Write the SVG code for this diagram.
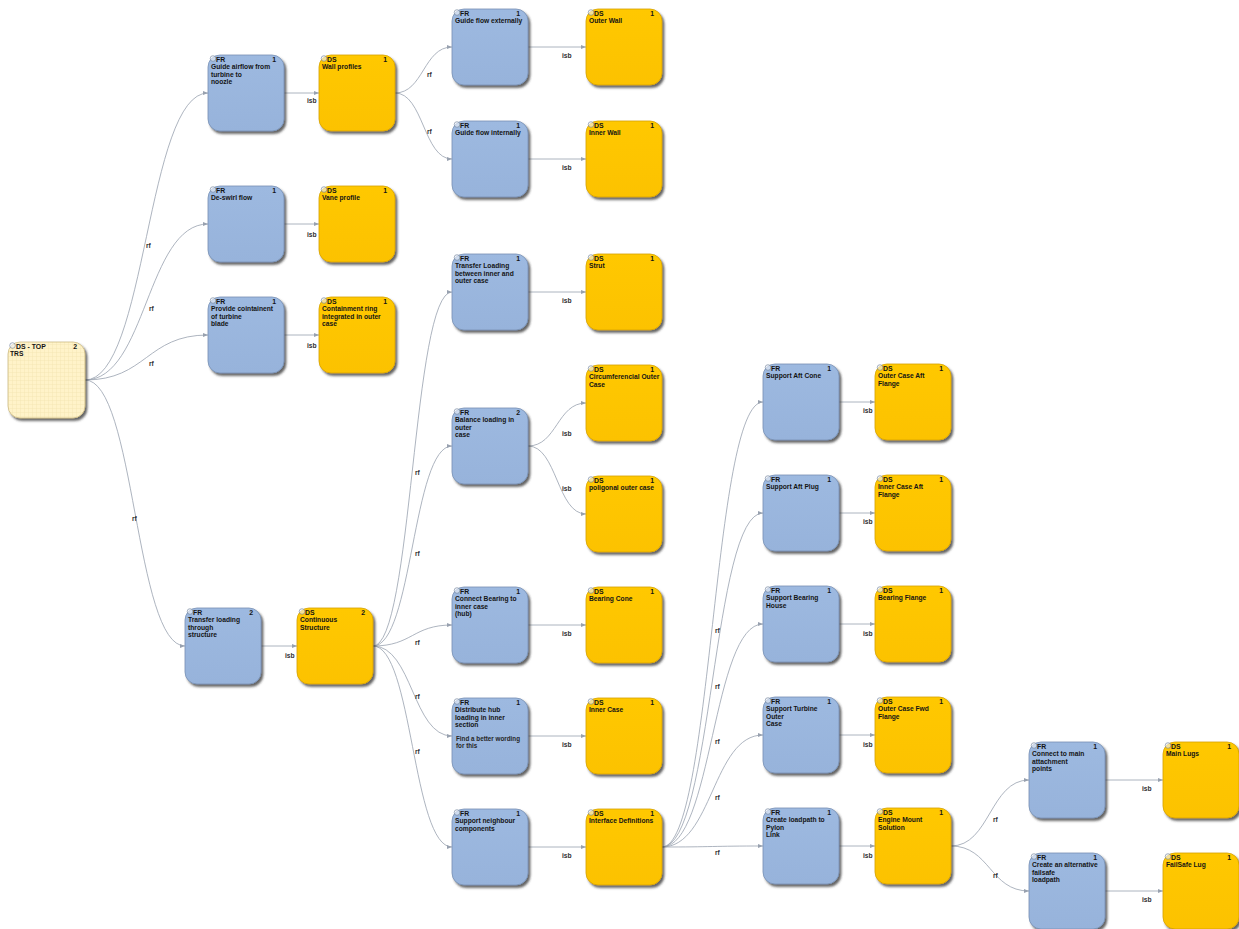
<svg xmlns="http://www.w3.org/2000/svg" width="1239" height="929" viewBox="0 0 1239 929">
  <defs>
    <style>
      .fr { fill: url(#gFR); stroke: #7890B4; stroke-width: 0.8; filter: url(#sh); }
      .ds { fill: url(#gDS); stroke: #D6A200; stroke-width: 0.8; filter: url(#sh); }
      .top { fill: url(#grid); stroke: #CDBB85; stroke-width: 0.8; filter: url(#sh); }
      .dot { fill: #EEF2F8; fill-opacity: 0.6; stroke: #6E7F99; stroke-width: 0.6; }
      .hd { font-family: "Liberation Sans", Arial, sans-serif; font-size: 6.9px; font-weight: bold; fill: #141414; }
      .num { font-family: "Liberation Sans", Arial, sans-serif; font-size: 6.9px; font-weight: bold; fill: #141414; text-anchor: end; }
      .tx { font-family: "Liberation Sans", Arial, sans-serif; font-size: 6.7px; font-weight: bold; fill: #141414; }
      .note { font-family: "Liberation Sans", Arial, sans-serif; font-size: 6.3px; font-weight: bold; fill: #262626; }
      .edge { fill: none; stroke: #98A1AF; stroke-width: 0.8; marker-end: url(#arr); }
      .lbl { font-family: "Liberation Sans", Arial, sans-serif; font-size: 6.7px; font-weight: bold; fill: #303030; }
    </style>
    <linearGradient id="gFR" x1="0" y1="0" x2="0" y2="1">
      <stop offset="0" stop-color="#9DB9E0"/>
      <stop offset="1" stop-color="#97B3DB"/>
    </linearGradient>
    <linearGradient id="gDS" x1="0" y1="0" x2="0" y2="1">
      <stop offset="0" stop-color="#FFC800"/>
      <stop offset="1" stop-color="#FCC200"/>
    </linearGradient>
    <pattern id="grid" width="4" height="4" patternUnits="userSpaceOnUse">
      <rect width="4" height="4" fill="#FFF3C9"/>
      <path d="M0,0.25 H4 M0.25,0 V4" stroke="#F2E3B0" stroke-width="0.5"/>
    </pattern>
    <filter id="sh" x="-10%" y="-10%" width="130%" height="130%">
      <feDropShadow dx="2" dy="2.5" stdDeviation="1.2" flood-color="#333333" flood-opacity="0.75"/>
    </filter>
    <marker id="arr" viewBox="0 0 6 6" refX="6" refY="3" markerWidth="5" markerHeight="5" markerUnits="userSpaceOnUse" orient="auto">
      <path d="M0,0.6 L6,3 L0,5.4 Z" fill="#98A1AF"/>
    </marker>
  </defs>
  <rect width="1239" height="929" fill="#FFFFFF"/>

  <!-- connectors -->
  <g id="connectors">
    <path class="edge" d="M85,380 C146.5,380 146.5,93 208,93"/>
    <path class="edge" d="M85,380 C146.5,380 146.5,224 208,224"/>
    <path class="edge" d="M85,380 C146.5,380 146.5,335 208,335"/>
    <path class="edge" d="M85,380 C135,380 135,646 185,646"/>
    <path class="edge" d="M284,93 L319,93"/>
    <path class="edge" d="M284,224 L319,224"/>
    <path class="edge" d="M284,335 L319,335"/>
    <path class="edge" d="M261,646 L297,646"/>
    <path class="edge" d="M395,93 C423.5,93 423.5,47 452,47"/>
    <path class="edge" d="M395,93 C423.5,93 423.5,159 452,159"/>
    <path class="edge" d="M528,47 L586,47"/>
    <path class="edge" d="M528,159 L586,159"/>
    <path class="edge" d="M373,646 C412.5,646 412.5,292 452,292"/>
    <path class="edge" d="M373,646 C412.5,646 412.5,446 452,446"/>
    <path class="edge" d="M373,646 C412.5,646 412.5,625 452,625"/>
    <path class="edge" d="M373,646 C412.5,646 412.5,736 452,736"/>
    <path class="edge" d="M373,646 C412.5,646 412.5,847 452,847"/>
    <path class="edge" d="M528,292 L586,292"/>
    <path class="edge" d="M528,446 C557,446 557,403 586,403"/>
    <path class="edge" d="M528,446 C557,446 557,514 586,514"/>
    <path class="edge" d="M528,625 L586,625"/>
    <path class="edge" d="M528,736 L586,736"/>
    <path class="edge" d="M528,847 L586,847"/>
    <path class="edge" d="M662,847 C712.5,847 712.5,402 763,402"/>
    <path class="edge" d="M662,847 C712.5,847 712.5,513 763,513"/>
    <path class="edge" d="M662,847 C712.5,847 712.5,624 763,624"/>
    <path class="edge" d="M662,847 C712.5,847 712.5,735 763,735"/>
    <path class="edge" d="M662,847 C712.5,847 712.5,846 763,846"/>
    <path class="edge" d="M839,402 L875,402"/>
    <path class="edge" d="M839,513 L875,513"/>
    <path class="edge" d="M839,624 L875,624"/>
    <path class="edge" d="M839,735 L875,735"/>
    <path class="edge" d="M839,846 L875,846"/>
    <path class="edge" d="M951,846 C990,846 990,780 1029,780"/>
    <path class="edge" d="M951,846 C990,846 990,891 1029,891"/>
    <path class="edge" d="M1105,780 L1163,780"/>
    <path class="edge" d="M1105,891 L1163,891"/>

    <text class="lbl" x="146" y="248">rf</text>
    <text class="lbl" x="149" y="311">rf</text>
    <text class="lbl" x="149" y="366">rf</text>
    <text class="lbl" x="132" y="521">rf</text>
    <text class="lbl" x="307" y="103">isb</text>
    <text class="lbl" x="307" y="237">isb</text>
    <text class="lbl" x="307" y="348">isb</text>
    <text class="lbl" x="285" y="658">isb</text>
    <text class="lbl" x="427" y="77">rf</text>
    <text class="lbl" x="427" y="134">rf</text>
    <text class="lbl" x="562" y="58">isb</text>
    <text class="lbl" x="562" y="170">isb</text>
    <text class="lbl" x="415" y="475">rf</text>
    <text class="lbl" x="415" y="556">rf</text>
    <text class="lbl" x="415" y="645">rf</text>
    <text class="lbl" x="415" y="699">rf</text>
    <text class="lbl" x="415" y="754">rf</text>
    <text class="lbl" x="562" y="303">isb</text>
    <text class="lbl" x="562" y="436">isb</text>
    <text class="lbl" x="562" y="491">isb</text>
    <text class="lbl" x="562" y="636">isb</text>
    <text class="lbl" x="562" y="747">isb</text>
    <text class="lbl" x="562" y="858">isb</text>
    <text class="lbl" x="715" y="633">rf</text>
    <text class="lbl" x="715" y="689">rf</text>
    <text class="lbl" x="715" y="744">rf</text>
    <text class="lbl" x="715" y="800">rf</text>
    <text class="lbl" x="715" y="855">rf</text>
    <text class="lbl" x="863" y="413">isb</text>
    <text class="lbl" x="863" y="524">isb</text>
    <text class="lbl" x="863" y="636">isb</text>
    <text class="lbl" x="863" y="747">isb</text>
    <text class="lbl" x="863" y="858">isb</text>
    <text class="lbl" x="993" y="822">rf</text>
    <text class="lbl" x="993" y="878">rf</text>
    <text class="lbl" x="1142" y="791">isb</text>
    <text class="lbl" x="1142" y="902">isb</text>
  </g>

  <!-- top-level design solution -->
  <g id="ds-top">
    <rect class="top" x="8" y="342" width="77" height="76" rx="12"/>
    <circle class="dot" cx="12.5" cy="345.5" r="2.8"/>
    <text class="hd" x="16" y="349">DS - TOP</text>
    <text class="num" x="77" y="349">2</text>
    <text class="tx" x="10" y="356">TRS</text>
  </g>

  <!-- functional requirements / design solutions -->
  <g id="fr-guide-airflow">
    <rect class="fr" x="208" y="55" width="76" height="76" rx="12"/>
    <circle class="dot" cx="213" cy="58.5" r="2.8"/>
    <text class="hd" x="216" y="62">FR</text>
    <text class="num" x="276" y="62">1</text>
    <text class="tx" x="211" y="69">Guide airflow from</text>
    <text class="tx" x="211" y="76.6">turbine to</text>
    <text class="tx" x="211" y="84.2">noozle</text>
  </g>
  <g id="ds-wall-profiles">
    <rect class="ds" x="319" y="55" width="76" height="76" rx="12"/>
    <circle class="dot" cx="324" cy="58.5" r="2.8"/>
    <text class="hd" x="327" y="62">DS</text>
    <text class="num" x="387" y="62">1</text>
    <text class="tx" x="322" y="69">Wall profiles</text>
  </g>
  <g id="fr-guide-ext">
    <rect class="fr" x="452" y="9" width="76" height="76" rx="12"/>
    <circle class="dot" cx="457" cy="12.5" r="2.8"/>
    <text class="hd" x="460" y="16">FR</text>
    <text class="num" x="520" y="16">1</text>
    <text class="tx" x="455" y="23">Guide flow externally</text>
  </g>
  <g id="ds-outer-wall">
    <rect class="ds" x="586" y="9" width="76" height="76" rx="12"/>
    <circle class="dot" cx="591" cy="12.5" r="2.8"/>
    <text class="hd" x="594" y="16">DS</text>
    <text class="num" x="654" y="16">1</text>
    <text class="tx" x="589" y="23">Outer Wall</text>
  </g>
  <g id="fr-guide-int">
    <rect class="fr" x="452" y="121" width="76" height="76" rx="12"/>
    <circle class="dot" cx="457" cy="124.5" r="2.8"/>
    <text class="hd" x="460" y="128">FR</text>
    <text class="num" x="520" y="128">1</text>
    <text class="tx" x="455" y="135">Guide flow internally</text>
  </g>
  <g id="ds-inner-wall">
    <rect class="ds" x="586" y="121" width="76" height="76" rx="12"/>
    <circle class="dot" cx="591" cy="124.5" r="2.8"/>
    <text class="hd" x="594" y="128">DS</text>
    <text class="num" x="654" y="128">1</text>
    <text class="tx" x="589" y="135">Inner Wall</text>
  </g>
  <g id="fr-deswirl">
    <rect class="fr" x="208" y="186" width="76" height="76" rx="12"/>
    <circle class="dot" cx="213" cy="189.5" r="2.8"/>
    <text class="hd" x="216" y="193">FR</text>
    <text class="num" x="276" y="193">1</text>
    <text class="tx" x="211" y="200">De-swirl flow</text>
  </g>
  <g id="ds-vane">
    <rect class="ds" x="319" y="186" width="76" height="76" rx="12"/>
    <circle class="dot" cx="324" cy="189.5" r="2.8"/>
    <text class="hd" x="327" y="193">DS</text>
    <text class="num" x="387" y="193">1</text>
    <text class="tx" x="322" y="200">Vane profile</text>
  </g>
  <g id="fr-containment">
    <rect class="fr" x="208" y="297" width="76" height="76" rx="12"/>
    <circle class="dot" cx="213" cy="300.5" r="2.8"/>
    <text class="hd" x="216" y="304">FR</text>
    <text class="num" x="276" y="304">1</text>
    <text class="tx" x="211" y="311">Provide cointainent</text>
    <text class="tx" x="211" y="318.6">of turbine</text>
    <text class="tx" x="211" y="326.2">blade</text>
  </g>
  <g id="ds-containment-ring">
    <rect class="ds" x="319" y="297" width="76" height="76" rx="12"/>
    <circle class="dot" cx="324" cy="300.5" r="2.8"/>
    <text class="hd" x="327" y="304">DS</text>
    <text class="num" x="387" y="304">1</text>
    <text class="tx" x="322" y="311">Containment ring</text>
    <text class="tx" x="322" y="318.6">integrated in outer</text>
    <text class="tx" x="322" y="326.2">case</text>
  </g>
  <g id="fr-transfer-structure">
    <rect class="fr" x="185" y="608" width="76" height="76" rx="12"/>
    <circle class="dot" cx="190" cy="611.5" r="2.8"/>
    <text class="hd" x="193" y="615">FR</text>
    <text class="num" x="253" y="615">2</text>
    <text class="tx" x="188" y="622">Transfer loading</text>
    <text class="tx" x="188" y="629.6">through</text>
    <text class="tx" x="188" y="637.2">structure</text>
  </g>
  <g id="ds-continuous">
    <rect class="ds" x="297" y="608" width="76" height="76" rx="12"/>
    <circle class="dot" cx="302" cy="611.5" r="2.8"/>
    <text class="hd" x="305" y="615">DS</text>
    <text class="num" x="365" y="615">2</text>
    <text class="tx" x="300" y="622">Continuous</text>
    <text class="tx" x="300" y="629.6">Structure</text>
  </g>
  <g id="fr-transfer-between">
    <rect class="fr" x="452" y="254" width="76" height="76" rx="12"/>
    <circle class="dot" cx="457" cy="257.5" r="2.8"/>
    <text class="hd" x="460" y="261">FR</text>
    <text class="num" x="520" y="261">1</text>
    <text class="tx" x="455" y="268">Transfer Loading</text>
    <text class="tx" x="455" y="275.6">between inner and</text>
    <text class="tx" x="455" y="283.2">outer case</text>
  </g>
  <g id="ds-strut">
    <rect class="ds" x="586" y="254" width="76" height="76" rx="12"/>
    <circle class="dot" cx="591" cy="257.5" r="2.8"/>
    <text class="hd" x="594" y="261">DS</text>
    <text class="num" x="654" y="261">1</text>
    <text class="tx" x="589" y="268">Strut</text>
  </g>
  <g id="fr-balance">
    <rect class="fr" x="452" y="408" width="76" height="76" rx="12"/>
    <circle class="dot" cx="457" cy="411.5" r="2.8"/>
    <text class="hd" x="460" y="415">FR</text>
    <text class="num" x="520" y="415">2</text>
    <text class="tx" x="455" y="422">Balance loading in</text>
    <text class="tx" x="455" y="429.6">outer</text>
    <text class="tx" x="455" y="437.2">case</text>
  </g>
  <g id="ds-circumferencial">
    <rect class="ds" x="586" y="365" width="76" height="76" rx="12"/>
    <circle class="dot" cx="591" cy="368.5" r="2.8"/>
    <text class="hd" x="594" y="372">DS</text>
    <text class="num" x="654" y="372">1</text>
    <text class="tx" x="589" y="379">Circumferencial Outer</text>
    <text class="tx" x="589" y="386.6">Case</text>
  </g>
  <g id="ds-poligonal">
    <rect class="ds" x="586" y="476" width="76" height="76" rx="12"/>
    <circle class="dot" cx="591" cy="479.5" r="2.8"/>
    <text class="hd" x="594" y="483">DS</text>
    <text class="num" x="654" y="483">1</text>
    <text class="tx" x="589" y="490">poligonal outer case</text>
  </g>
  <g id="fr-connect-bearing">
    <rect class="fr" x="452" y="587" width="76" height="76" rx="12"/>
    <circle class="dot" cx="457" cy="590.5" r="2.8"/>
    <text class="hd" x="460" y="594">FR</text>
    <text class="num" x="520" y="594">1</text>
    <text class="tx" x="455" y="601">Connect Bearing to</text>
    <text class="tx" x="455" y="608.6">inner case</text>
    <text class="tx" x="455" y="616.2">(hub)</text>
  </g>
  <g id="ds-bearing-cone">
    <rect class="ds" x="586" y="587" width="76" height="76" rx="12"/>
    <circle class="dot" cx="591" cy="590.5" r="2.8"/>
    <text class="hd" x="594" y="594">DS</text>
    <text class="num" x="654" y="594">1</text>
    <text class="tx" x="589" y="601">Bearing Cone</text>
  </g>
  <g id="fr-distribute-hub">
    <rect class="fr" x="452" y="698" width="76" height="76" rx="12"/>
    <circle class="dot" cx="457" cy="701.5" r="2.8"/>
    <text class="hd" x="460" y="705">FR</text>
    <text class="num" x="520" y="705">1</text>
    <text class="tx" x="455" y="712">Distribute hub</text>
    <text class="tx" x="455" y="719.6">loading in inner</text>
    <text class="tx" x="455" y="727.2">section</text>
    <text class="note" x="456" y="740.5">Find a better wording</text>
    <text class="note" x="456" y="748">for this</text>
  </g>
  <g id="ds-inner-case">
    <rect class="ds" x="586" y="698" width="76" height="76" rx="12"/>
    <circle class="dot" cx="591" cy="701.5" r="2.8"/>
    <text class="hd" x="594" y="705">DS</text>
    <text class="num" x="654" y="705">1</text>
    <text class="tx" x="589" y="712">Inner Case</text>
  </g>
  <g id="fr-support-neighbour">
    <rect class="fr" x="452" y="809" width="76" height="76" rx="12"/>
    <circle class="dot" cx="457" cy="812.5" r="2.8"/>
    <text class="hd" x="460" y="816">FR</text>
    <text class="num" x="520" y="816">1</text>
    <text class="tx" x="455" y="823">Support neighbour</text>
    <text class="tx" x="455" y="830.6">components</text>
  </g>
  <g id="ds-interface">
    <rect class="ds" x="586" y="809" width="76" height="76" rx="12"/>
    <circle class="dot" cx="591" cy="812.5" r="2.8"/>
    <text class="hd" x="594" y="816">DS</text>
    <text class="num" x="654" y="816">1</text>
    <text class="tx" x="589" y="823">Interface Definitions</text>
  </g>
  <g id="fr-aft-cone">
    <rect class="fr" x="763" y="364" width="76" height="76" rx="12"/>
    <circle class="dot" cx="768" cy="367.5" r="2.8"/>
    <text class="hd" x="771" y="371">FR</text>
    <text class="num" x="831" y="371">1</text>
    <text class="tx" x="766" y="378">Support Aft Cone</text>
  </g>
  <g id="ds-outer-aft-flange">
    <rect class="ds" x="875" y="364" width="76" height="76" rx="12"/>
    <circle class="dot" cx="880" cy="367.5" r="2.8"/>
    <text class="hd" x="883" y="371">DS</text>
    <text class="num" x="943" y="371">1</text>
    <text class="tx" x="878" y="378">Outer Case Aft</text>
    <text class="tx" x="878" y="385.6">Flange</text>
  </g>
  <g id="fr-aft-plug">
    <rect class="fr" x="763" y="475" width="76" height="76" rx="12"/>
    <circle class="dot" cx="768" cy="478.5" r="2.8"/>
    <text class="hd" x="771" y="482">FR</text>
    <text class="num" x="831" y="482">1</text>
    <text class="tx" x="766" y="489">Support Aft Plug</text>
  </g>
  <g id="ds-inner-aft-flange">
    <rect class="ds" x="875" y="475" width="76" height="76" rx="12"/>
    <circle class="dot" cx="880" cy="478.5" r="2.8"/>
    <text class="hd" x="883" y="482">DS</text>
    <text class="num" x="943" y="482">1</text>
    <text class="tx" x="878" y="489">Inner Case Aft</text>
    <text class="tx" x="878" y="496.6">Flange</text>
  </g>
  <g id="fr-bearing-house">
    <rect class="fr" x="763" y="586" width="76" height="76" rx="12"/>
    <circle class="dot" cx="768" cy="589.5" r="2.8"/>
    <text class="hd" x="771" y="593">FR</text>
    <text class="num" x="831" y="593">1</text>
    <text class="tx" x="766" y="600">Support Bearing</text>
    <text class="tx" x="766" y="607.6">House</text>
  </g>
  <g id="ds-bearing-flange">
    <rect class="ds" x="875" y="586" width="76" height="76" rx="12"/>
    <circle class="dot" cx="880" cy="589.5" r="2.8"/>
    <text class="hd" x="883" y="593">DS</text>
    <text class="num" x="943" y="593">1</text>
    <text class="tx" x="878" y="600">Bearing Flange</text>
  </g>
  <g id="fr-turbine-outer">
    <rect class="fr" x="763" y="697" width="76" height="76" rx="12"/>
    <circle class="dot" cx="768" cy="700.5" r="2.8"/>
    <text class="hd" x="771" y="704">FR</text>
    <text class="num" x="831" y="704">1</text>
    <text class="tx" x="766" y="711">Support Turbine</text>
    <text class="tx" x="766" y="718.6">Outer</text>
    <text class="tx" x="766" y="726.2">Case</text>
  </g>
  <g id="ds-outer-fwd-flange">
    <rect class="ds" x="875" y="697" width="76" height="76" rx="12"/>
    <circle class="dot" cx="880" cy="700.5" r="2.8"/>
    <text class="hd" x="883" y="704">DS</text>
    <text class="num" x="943" y="704">1</text>
    <text class="tx" x="878" y="711">Outer Case Fwd</text>
    <text class="tx" x="878" y="718.6">Flange</text>
  </g>
  <g id="fr-pylon-loadpath">
    <rect class="fr" x="763" y="808" width="76" height="76" rx="12"/>
    <circle class="dot" cx="768" cy="811.5" r="2.8"/>
    <text class="hd" x="771" y="815">FR</text>
    <text class="num" x="831" y="815">1</text>
    <text class="tx" x="766" y="822">Create loadpath to</text>
    <text class="tx" x="766" y="829.6">Pylon</text>
    <text class="tx" x="766" y="837.2">Link</text>
  </g>
  <g id="ds-engine-mount">
    <rect class="ds" x="875" y="808" width="76" height="76" rx="12"/>
    <circle class="dot" cx="880" cy="811.5" r="2.8"/>
    <text class="hd" x="883" y="815">DS</text>
    <text class="num" x="943" y="815">1</text>
    <text class="tx" x="878" y="822">Engine Mount</text>
    <text class="tx" x="878" y="829.6">Solution</text>
  </g>
  <g id="fr-main-attachment">
    <rect class="fr" x="1029" y="742" width="76" height="76" rx="12"/>
    <circle class="dot" cx="1034" cy="745.5" r="2.8"/>
    <text class="hd" x="1037" y="749">FR</text>
    <text class="num" x="1097" y="749">1</text>
    <text class="tx" x="1032" y="756">Connect to main</text>
    <text class="tx" x="1032" y="763.6">attachment</text>
    <text class="tx" x="1032" y="771.2">points</text>
  </g>
  <g id="ds-main-lugs">
    <rect class="ds" x="1163" y="742" width="76" height="76" rx="12"/>
    <circle class="dot" cx="1168" cy="745.5" r="2.8"/>
    <text class="hd" x="1171" y="749">DS</text>
    <text class="num" x="1231" y="749">1</text>
    <text class="tx" x="1166" y="756">Main Lugs</text>
  </g>
  <g id="fr-failsafe-loadpath">
    <rect class="fr" x="1029" y="853" width="76" height="76" rx="12"/>
    <circle class="dot" cx="1034" cy="856.5" r="2.8"/>
    <text class="hd" x="1037" y="860">FR</text>
    <text class="num" x="1097" y="860">1</text>
    <text class="tx" x="1032" y="867">Create an alternative</text>
    <text class="tx" x="1032" y="874.6">failsafe</text>
    <text class="tx" x="1032" y="882.2">loadpath</text>
  </g>
  <g id="ds-failsafe-lug">
    <rect class="ds" x="1163" y="853" width="76" height="76" rx="12"/>
    <circle class="dot" cx="1168" cy="856.5" r="2.8"/>
    <text class="hd" x="1171" y="860">DS</text>
    <text class="num" x="1231" y="860">1</text>
    <text class="tx" x="1166" y="867">FailSafe Lug</text>
  </g>
</svg>
